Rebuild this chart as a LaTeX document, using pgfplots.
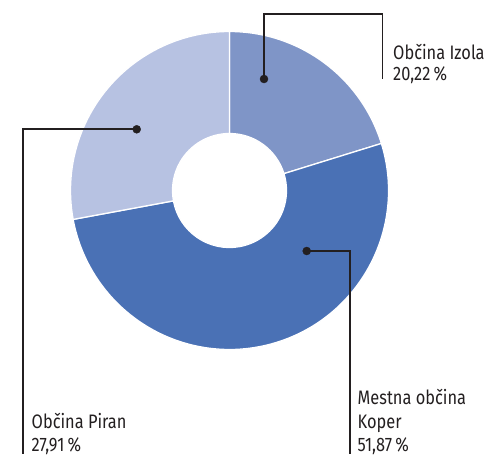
\documentclass[border=0pt]{standalone}
\usepackage{pgfplots}
\pgfplotsset{compat=1.18}
\usepackage{fontspec}
\setmainfont[FakeStretch=0.84]{Fira Sans}
\definecolor{cIzola}{RGB}{127,149,199}
\definecolor{cKoper}{RGB}{74,113,181}
\definecolor{cPiran}{RGB}{183,194,226}
\definecolor{ink}{RGB}{35,31,32}
\begin{document}
\begin{tikzpicture}
\def\vIzola{20.22}
\def\vKoper{51.87}
\def\vPiran{27.91}
\pgfmathsetmacro\aA{90}
\pgfmathsetmacro\aB{\aA-3.6*\vIzola}
\pgfmathsetmacro\aC{\aB-3.6*\vKoper}
\pgfmathsetmacro\aD{\aC-3.6*\vPiran}
\def\Ro{159bp}
\def\Ri{57bp}
\begin{axis}[width=490bp,height=454bp,scale only axis,
  xmin=0,xmax=490,ymin=0,ymax=454,y dir=reverse,
  hide axis,clip=false]
\path (rel axis cs:0,0) rectangle (rel axis cs:1,1);
\coordinate (C) at (axis cs:229.5,190.5);
\fill[cIzola,draw=white,line width=1.3bp] ([shift={(C)}]\aA:\Ro) arc[start angle=\aA,end angle=\aB,radius=\Ro] -- ([shift={(C)}]\aB:\Ri) arc[start angle=\aB,end angle=\aA,radius=\Ri] -- cycle;
\fill[cKoper,draw=white,line width=1.3bp] ([shift={(C)}]\aB:\Ro) arc[start angle=\aB,end angle=\aC,radius=\Ro] -- ([shift={(C)}]\aC:\Ri) arc[start angle=\aC,end angle=\aB,radius=\Ri] -- cycle;
\fill[cPiran,draw=white,line width=1.3bp] ([shift={(C)}]\aC:\Ro) arc[start angle=\aC,end angle=\aD,radius=\Ro] -- ([shift={(C)}]\aD:\Ri) arc[start angle=\aD,end angle=\aC,radius=\Ri] -- cycle;
% leader lines
\addplot[ink,line width=1.8bp,no marks] coordinates {(264,79) (264,14) (382.5,14) (382.5,79)};
\addplot[ink,line width=1.8bp,no marks] coordinates {(306.7,251) (350.3,251) (350.3,454)};
\addplot[ink,line width=1.8bp,no marks] coordinates {(136.7,129.3) (22.7,129.3) (22.7,454)};
\addplot[ink,only marks,mark=*,mark size=4bp] coordinates {(264,79) (306.7,251) (136.7,129.3)};
% labels
\begin{scope}[every node/.style={anchor=base west,inner sep=0pt,text=ink,font=\fontsize{19.5bp}{22bp}\selectfont}]
\node at (axis cs:393,59) {Občina Izola};
\node at (axis cs:393,80) {20,22\,\%};
\node at (axis cs:357.5,404) {Mestna občina};
\node at (axis cs:357.5,428) {Koper};
\node at (axis cs:357.5,451) {51,87\,\%};
\node at (axis cs:31.5,428) {Občina Piran};
\node at (axis cs:31.5,451) {27,91\,\%};
\end{scope}
\end{axis}
\end{tikzpicture}
\end{document}
